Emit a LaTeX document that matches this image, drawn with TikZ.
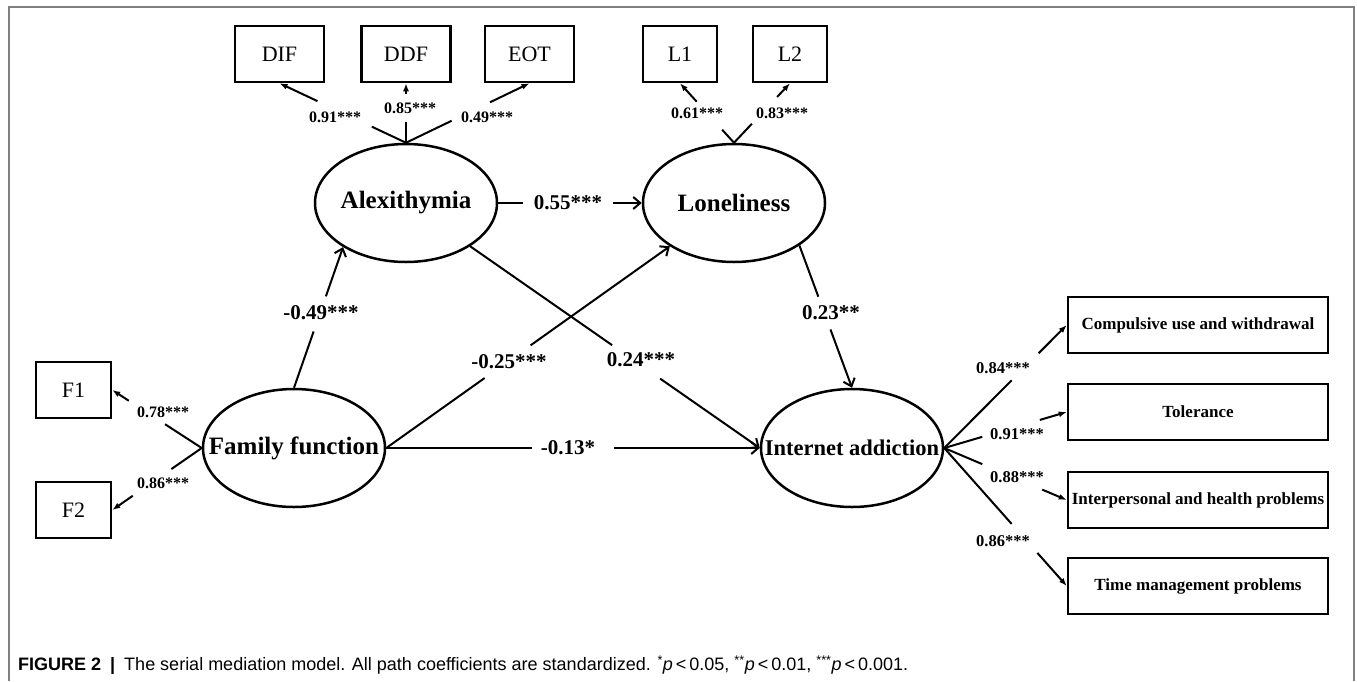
\documentclass[tikz,border=0pt]{standalone}
\usepackage{fontspec}
\setmainfont{Liberation Serif}
\newfontfamily\capfont{Liberation Sans}
\usetikzlibrary{arrows.meta,shapes.geometric,calc}
\newcommand{\gapline}[5]{%
  \draw[conn] (#2) -- ($(#2)!#4!(#3)$);
  \draw[conn,#1] ($(#2)!#5!(#3)$) -- (#3);}
\begin{document}
\begin{tikzpicture}[x=1pt,y=-1pt,
  lat/.style={ellipse, draw, line width=2.5pt, minimum width=182pt, minimum height=118pt, inner sep=0pt},
  lattxt/.style={font=\fontsize{25}{30}\selectfont\bfseries, inner sep=0pt},
  ind/.style={draw, line width=2.5pt, minimum height=56pt, inner sep=0pt, font=\fontsize{22}{26}\selectfont},
  rind/.style={draw, line width=2.5pt, minimum width=260pt, minimum height=56pt, inner sep=0pt, font=\fontsize{17}{20}\selectfont\bfseries},
  conn/.style={line width=2pt},
  sarr/.style={-{Straight Barb[length=7pt,width=12pt]}},
  iarr/.style={-{Latex[length=8pt,width=6pt]}},
  coef/.style={font=\fontsize{16}{18}\selectfont\bfseries, inner sep=0pt},
  rcoef/.style={font=\fontsize{16.5}{18}\selectfont\bfseries, inner sep=0pt},
  scoef/.style={font=\fontsize{21}{24}\selectfont\bfseries, inner sep=0pt},
  frame/.style={draw=black!50, line width=1.5pt}
]
\useasboundingbox (0,0) rectangle (1357,681);
\draw[frame] (9,681) -- (9,7) -- (1354,7) -- (1354,681);

% latent variables
\node[lat] (Alex) at (406,203) {};
\node[lattxt] (AlexT) at (Alex) {Alexithymia};
\node[lat] (Lone) at (734,203) {};
\node[lattxt] (LoneT) at (Lone) {Loneliness};
\node[lat] (FF) at (294,448) {};
\node[lattxt] (FFT) at (FF) {Family function};
\node[lat] (IA) at (852,448) {};
\node[lattxt, font=\fontsize{22.5}{27}\selectfont\bfseries] (IAT) at (IA) {Internet addiction};

% indicators
\node[ind, minimum width=89pt] (DIF) at (279.5,54) {DIF};
\node[ind, minimum width=89pt] (DDF) at (406,54) {DDF};
\node[ind, minimum width=89pt] (EOT) at (529.5,54) {EOT};
\node[ind, minimum width=74pt] (L1) at (680,54) {L1};
\node[ind, minimum width=74pt] (L2) at (790,54) {L2};
\node[ind, minimum width=75pt] (F1) at (73.5,390) {F1};
\node[ind, minimum width=75pt] (F2) at (73.5,510) {F2};
\node[rind] (C1) at (1198,325) {Compulsive use and withdrawal};
\node[rind] (C2) at (1198,412) {Tolerance};
\node[rind] (C3) at (1198,500) {Interpersonal and health problems};
\node[rind] (C4) at (1198,586) {Time management problems};

% loadings
\gapline{iarr}{Alex.north}{DIF.south}{0.27}{0.70}
\gapline{iarr}{Alex.north}{DDF.south}{0.355}{0.82}
\gapline{iarr}{Alex.north}{EOT.south}{0.37}{0.68}
\gapline{iarr}{Lone.north}{L1.south}{0.22}{0.69}
\gapline{iarr}{Lone.north}{L2.south}{0.32}{0.77}
\gapline{iarr}{FF.west}{F1.east}{0.41}{0.815}
\gapline{iarr}{FF.west}{F2.east}{0.34}{0.77}
\gapline{iarr}{IA.east}{C1.west}{0.55}{0.77}
\gapline{iarr}{IA.east}{C2.west}{0.31}{0.78}
\gapline{iarr}{IA.east}{C3.west}{0.31}{0.80}
\gapline{iarr}{IA.east}{C4.west}{0.55}{0.76}

\node[coef] (kDIF) at (335,117) {0.91***};
\node[coef] (kDDF) at (410,108) {0.85***};
\node[coef] (kEOT) at (487,117) {0.49***};
\node[coef] (kL1) at (697,113) {0.61***};
\node[coef] (kL2) at (782,113) {0.83***};
\node[coef] (kF1) at (163,412) {0.78***};
\node[coef] (kF2) at (163,483) {0.86***};
\node[rcoef] (kC1) at (1003,368) {0.84***};
\node[rcoef] (kC2) at (1017,434) {0.91***};
\node[rcoef] (kC3) at (1017,477) {0.88***};
\node[rcoef] (kC4) at (1003,541) {0.86***};

% structural paths
\gapline{sarr}{FF.north}{Alex.215.5}{0.40}{0.65}
\gapline{sarr}{Alex.east}{Lone.west}{0.17}{0.80}
\gapline{sarr}{Alex.326.3}{IA.west}{0.49}{0.656}
\gapline{sarr}{FF.east}{Lone.214.5}{0.347}{0.509}
\gapline{sarr}{FF.east}{IA.west}{0.39}{0.61}
\gapline{sarr}{Lone.327}{IA.north}{0.36}{0.59}

\node[scoef] (pFA) at (321,313) {-0.49***};
\node[scoef] (pAL) at (568,203) {0.55***};
\node[scoef] (pAI) at (641,360) {0.24***};
\node[scoef] (pFL) at (509,362) {-0.25***};
\node[scoef] (pFI) at (568,448) {-0.13*};
\node[scoef] (pLI) at (831,313) {0.23**};

% caption
\node[anchor=west, inner sep=0pt, font=\capfont\fontsize{18}{21}\selectfont] (cap) at (18,665)
  {\textbf{FIGURE 2}\enspace\textbf{|}\enspace The serial mediation model. All path coefficients are standardized. \textsuperscript{*}\textit{p}\,<\,0.05, \textsuperscript{**}\textit{p}\,<\,0.01, \textsuperscript{***}\textit{p}\,<\,0.001.};
\end{tikzpicture}
\end{document}
